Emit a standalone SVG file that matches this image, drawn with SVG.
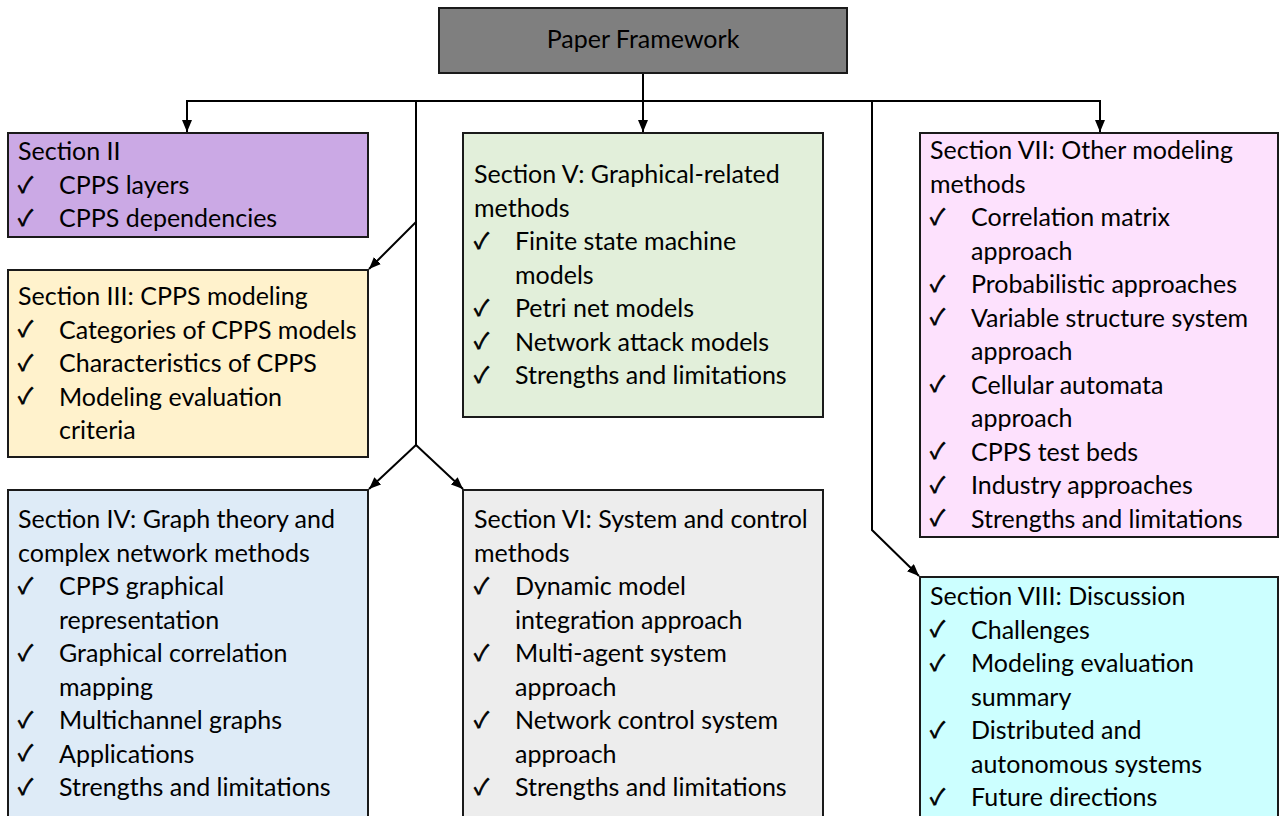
<svg xmlns="http://www.w3.org/2000/svg" width="1279" height="816" viewBox="0 0 1279 816">
<defs>
<marker id="ah" viewBox="0 0 12 10" refX="12" refY="5" markerWidth="12" markerHeight="10" markerUnits="userSpaceOnUse" orient="auto">
<path d="M0,0 L12,5 L0,10 Z" fill="#000"/>
</marker>
<style>
.box{stroke:#1a1a1a;stroke-width:2}
.t{font-family:Lato,"Liberation Sans",sans-serif;font-size:25px;fill:#000}
.ck{font-family:"Noto Sans CJK JP","DejaVu Sans",sans-serif;font-size:22px;fill:#000;stroke:#000;stroke-width:0.7}
.ln{fill:none;stroke:#000;stroke-width:2}
</style>
</defs>
<rect width="1279" height="816" fill="#fff"/>
<g id="connectors">
<line class="ln" x1="187" y1="101" x2="1100" y2="101"/>
<line class="ln" x1="643" y1="73" x2="643" y2="132" marker-end="url(#ah)"/>
<line class="ln" x1="187" y1="100" x2="187" y2="132" marker-end="url(#ah)"/>
<line class="ln" x1="1100" y1="100" x2="1100" y2="132" marker-end="url(#ah)"/>
<polyline class="ln" points="416,101 416,445"/>
<line class="ln" x1="416" y1="222" x2="369" y2="269" marker-end="url(#ah)"/>
<line class="ln" x1="416" y1="445" x2="369" y2="489" marker-end="url(#ah)"/>
<line class="ln" x1="416" y1="445" x2="463" y2="489" marker-end="url(#ah)"/>
<polyline class="ln" points="872,101 872,530 919,576" marker-end="url(#ah)"/>
</g>
<g id="paper">
<rect class="box" x="439" y="8" width="408" height="65" fill="#7f7f7f"/>
<text class="t" x="643" y="48" text-anchor="middle">Paper Framework</text>
</g>
<g id="sec2">
<rect class="box" x="8" y="133" width="360" height="104" fill="#cba9e5"/>
<text class="t" x="18" y="160">Section II</text>
<text class="ck" x="18" y="193">✓</text><text class="t" x="59" y="194">CPPS layers</text>
<text class="ck" x="18" y="226">✓</text><text class="t" x="59" y="227">CPPS dependencies</text>
</g>
<g id="sec3">
<rect class="box" x="8" y="270" width="360" height="187" fill="#fff2cc"/>
<text class="t" x="18" y="305">Section III: CPPS modeling</text>
<text class="ck" x="18" y="337">✓</text><text class="t" x="59" y="338.5">Categories of CPPS models</text>
<text class="ck" x="18" y="371">✓</text><text class="t" x="59" y="372">Characteristics of CPPS</text>
<text class="ck" x="18" y="404">✓</text><text class="t" x="59" y="405.5">Modeling evaluation</text>
<text class="t" x="59" y="439">criteria</text>
</g>
<g id="sec4">
<rect class="box" x="8" y="490" width="360" height="340" fill="#deebf7"/>
<text class="t" x="18" y="528">Section IV: Graph theory and</text>
<text class="t" x="18" y="561.5">complex network methods</text>
<text class="ck" x="18" y="594">✓</text><text class="t" x="59" y="595">CPPS graphical</text>
<text class="t" x="59" y="628.5">representation</text>
<text class="ck" x="18" y="661">✓</text><text class="t" x="59" y="662">Graphical correlation</text>
<text class="t" x="59" y="695.5">mapping</text>
<text class="ck" x="18" y="728">✓</text><text class="t" x="59" y="729">Multichannel graphs</text>
<text class="ck" x="18" y="761">✓</text><text class="t" x="59" y="762.5">Applications</text>
<text class="ck" x="18" y="795">✓</text><text class="t" x="59" y="796">Strengths and limitations</text>
</g>
<g id="sec5">
<rect class="box" x="463" y="133" width="360" height="284" fill="#e2efda"/>
<text class="t" x="474" y="183">Section V: Graphical-related</text>
<text class="t" x="474" y="216.5">methods</text>
<text class="ck" x="474" y="249">✓</text><text class="t" x="515" y="250">Finite state machine</text>
<text class="t" x="515" y="283.5">models</text>
<text class="ck" x="474" y="316">✓</text><text class="t" x="515" y="317">Petri net models</text>
<text class="ck" x="474" y="349">✓</text><text class="t" x="515" y="350.5">Network attack models</text>
<text class="ck" x="474" y="383">✓</text><text class="t" x="515" y="384">Strengths and limitations</text>
</g>
<g id="sec6">
<rect class="box" x="463" y="490" width="360" height="340" fill="#ededed"/>
<text class="t" x="474" y="528">Section VI: System and control</text>
<text class="t" x="474" y="561.5">methods</text>
<text class="ck" x="474" y="594">✓</text><text class="t" x="515" y="595">Dynamic model</text>
<text class="t" x="515" y="628.5">integration approach</text>
<text class="ck" x="474" y="661">✓</text><text class="t" x="515" y="662">Multi-agent system</text>
<text class="t" x="515" y="695.5">approach</text>
<text class="ck" x="474" y="728">✓</text><text class="t" x="515" y="729">Network control system</text>
<text class="t" x="515" y="762.5">approach</text>
<text class="ck" x="474" y="795">✓</text><text class="t" x="515" y="796">Strengths and limitations</text>
</g>
<g id="sec7">
<rect class="box" x="920" y="133" width="358" height="404" fill="#fde1fd"/>
<text class="t" x="930" y="159">Section VII: Other modeling</text>
<text class="t" x="930" y="192.5">methods</text>
<text class="ck" x="930" y="225">✓</text><text class="t" x="971" y="226">Correlation matrix</text>
<text class="t" x="971" y="259.5">approach</text>
<text class="ck" x="930" y="292">✓</text><text class="t" x="971" y="293">Probabilistic approaches</text>
<text class="ck" x="930" y="325">✓</text><text class="t" x="971" y="326.5">Variable structure system</text>
<text class="t" x="971" y="360">approach</text>
<text class="ck" x="930" y="392">✓</text><text class="t" x="971" y="393.5">Cellular automata</text>
<text class="t" x="971" y="427">approach</text>
<text class="ck" x="930" y="459">✓</text><text class="t" x="971" y="460.5">CPPS test beds</text>
<text class="ck" x="930" y="493">✓</text><text class="t" x="971" y="494">Industry approaches</text>
<text class="ck" x="930" y="526">✓</text><text class="t" x="971" y="527.5">Strengths and limitations</text>
</g>
<g id="sec8">
<rect class="box" x="920" y="577" width="358" height="260" fill="#ccffff"/>
<text class="t" x="930" y="605">Section VIII: Discussion</text>
<text class="ck" x="930" y="637">✓</text><text class="t" x="971" y="638.5">Challenges</text>
<text class="ck" x="930" y="671">✓</text><text class="t" x="971" y="672">Modeling evaluation</text>
<text class="t" x="971" y="705.5">summary</text>
<text class="ck" x="930" y="738">✓</text><text class="t" x="971" y="739">Distributed and</text>
<text class="t" x="971" y="772.5">autonomous systems</text>
<text class="ck" x="930" y="805">✓</text><text class="t" x="971" y="806">Future directions</text>
</g>
</svg>
